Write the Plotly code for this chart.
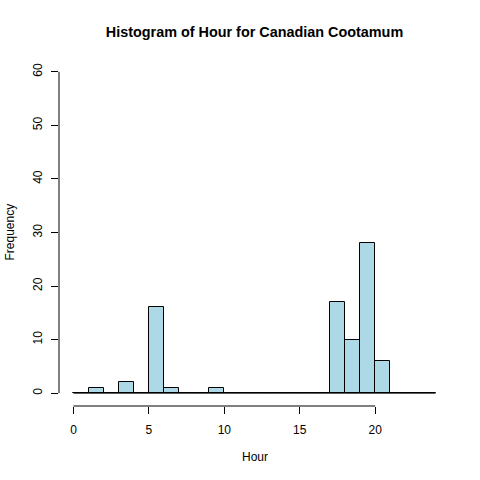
import plotly.graph_objects as go

# Data
breaks = list(range(0, 25))
counts = [0, 1, 0, 2, 0, 16, 1, 0, 0, 1,
          0, 0, 0, 0, 0, 0, 0,
          17, 10, 28, 6,
          0, 0, 0]
x_ticks = [0, 5, 10, 15, 20]
y_ticks = [0, 10, 20, 30, 40, 50, 60]
title_text = "Histogram of Hour for Canadian Cootamum"
x_label = "Hour"
y_label = "Frequency"

centers = [(breaks[i] + breaks[i + 1]) / 2 for i in range(len(counts))]
widths = [breaks[i + 1] - breaks[i] for i in range(len(counts))]

FONT = "Liberation Sans, Arial, Helvetica, sans-serif"

fig = go.Figure()
fig.add_trace(go.Bar(
    x=centers, y=counts, width=widths,
    marker=dict(color="#ADD8E6", line=dict(color="black", width=1)),
    hoverinfo="x+y", showlegend=False,
))
# zero-height bins drawn as flat rectangles (baseline) like R
fig.add_trace(go.Scatter(
    x=[breaks[0], breaks[-1]], y=[0, 0], mode="lines",
    line=dict(color="black", width=1), hoverinfo="skip", showlegend=False,
))

xr = [breaks[0] - 0.04 * (breaks[-1] - breaks[0]), breaks[-1] + 0.04 * (breaks[-1] - breaks[0])]
yr = [y_ticks[0] - 0.04 * (y_ticks[-1] - y_ticks[0]), y_ticks[-1] + 0.04 * (y_ticks[-1] - y_ticks[0])]

fig.update_layout(
    width=480, height=480,
    margin=dict(l=59, r=30, t=59, b=74, pad=0),
    paper_bgcolor="white", plot_bgcolor="white",
    font=dict(family=FONT, size=12, color="black"),
    bargap=0,
    title=dict(text="<b>" + title_text + "</b>", x=0.5, xref="paper",
               y=1 - 32 / 480, yref="container", yanchor="middle",
               font=dict(size=14.4, family=FONT, color="black")),
    xaxis=dict(range=xr, tickvals=x_ticks, ticks="outside", ticklen=7,
               tickwidth=1, tickcolor="black", showline=False, showgrid=False,
               zeroline=False, tickfont=dict(size=12), ticklabelstandoff=6),
    yaxis=dict(range=yr, tickvals=y_ticks, ticks="outside", ticklen=7,
               tickwidth=1, tickcolor="black", showline=False, showgrid=False,
               zeroline=False, tickangle=-90, tickfont=dict(size=12),
               ticklabelstandoff=4),
    shapes=[
        dict(type="line", xref="x", yref="paper", x0=x_ticks[0], x1=x_ticks[-1],
             y0=0, y1=0, line=dict(color="black", width=1)),
        dict(type="line", xref="paper", yref="y", x0=0, x1=0,
             y0=y_ticks[0], y1=y_ticks[-1], line=dict(color="black", width=1)),
    ],
    annotations=[
        dict(text=x_label, xref="paper", yref="paper", x=0.5, y=(406 - 457) / 347,
             xanchor="center", yanchor="middle", showarrow=False,
             font=dict(size=12)),
        dict(text=y_label, xref="paper", yref="paper", x=(9 - 59) / 391, y=0.5,
             xanchor="center", yanchor="middle", showarrow=False, textangle=-90,
             font=dict(size=12)),
    ],
)

fig.write_html("out.html", config={"displayModeBar": False},
               post_script="document.body.style.margin='0';document.body.style.overflow='hidden';")
